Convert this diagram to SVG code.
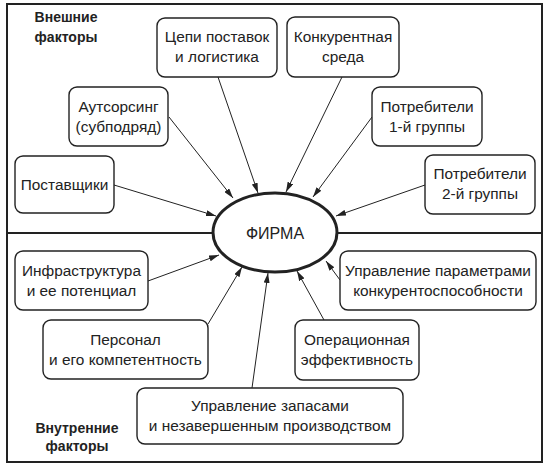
<svg xmlns="http://www.w3.org/2000/svg" width="549" height="466" viewBox="0 0 549 466">
<style>
.box{fill:#fff;stroke:#222;stroke-width:1.4}
.t{font-family:"Liberation Sans",Arial,sans-serif;font-size:15.4px;fill:#222;text-anchor:middle}
.f{font-family:"Liberation Sans",Arial,sans-serif;font-size:16px;fill:#222;text-anchor:middle}
.h{font-family:"Liberation Sans",Arial,sans-serif;font-size:14px;font-weight:bold;fill:#222;text-anchor:middle}
.c{stroke:#222;stroke-width:1;fill:none;marker-end:url(#ah)}
</style>
<defs>
<marker id="ah" viewBox="0 0 10 6" refX="10" refY="3" markerWidth="10" markerHeight="6" markerUnits="userSpaceOnUse" orient="auto">
<path d="M0,0 L10,3 L0,6 Z" fill="#222"/>
</marker>
</defs>
<rect x="7" y="4" width="535" height="458" fill="#fff" stroke="#222" stroke-width="2"/>
<line x1="7" y1="233" x2="542" y2="233" stroke="#222" stroke-width="2"/>
<g id="labels">
<text class="h" x="66" y="22">Внешние</text>
<text class="h" x="66" y="42">факторы</text>
<text class="h" x="77" y="433">Внутренние</text>
<text class="h" x="77" y="451">факторы</text>
</g>
<g id="connectors">
<line class="c" x1="114" y1="185" x2="216" y2="216"/>
<line class="c" x1="169" y1="117" x2="233" y2="198"/>
<line class="c" x1="218" y1="77" x2="258" y2="193"/>
<line class="c" x1="342" y1="77" x2="286" y2="192"/>
<line class="c" x1="372" y1="117" x2="313" y2="197"/>
<line class="c" x1="425" y1="185" x2="336" y2="216"/>
<line class="c" x1="148" y1="281" x2="219" y2="255"/>
<line class="c" x1="208" y1="324" x2="242" y2="267"/>
<line class="c" x1="252" y1="388" x2="268" y2="273"/>
<line class="c" x1="324" y1="320" x2="297" y2="271"/>
<line class="c" x1="340" y1="280" x2="326" y2="261"/>
</g>
<g id="firma">
<ellipse cx="275" cy="232.5" rx="62" ry="39.5" fill="#fff" stroke="#222" stroke-width="3"/>
<text class="f" x="275" y="238.5">ФИРМА</text>
</g>
<g id="chains">
<rect class="box" x="157" y="18" width="120" height="59" rx="8"/>
<text class="t" x="217" y="42">Цепи поставок</text>
<text class="t" x="217" y="62">и логистика</text>
</g>
<g id="competition">
<rect class="box" x="287" y="17" width="112" height="60" rx="8"/>
<text class="t" x="343" y="42">Конкурентная</text>
<text class="t" x="343" y="62">среда</text>
</g>
<g id="outsourcing">
<rect class="box" x="69" y="87" width="99" height="59" rx="8"/>
<text class="t" x="118.5" y="112">Аутсорсинг</text>
<text class="t" x="118.5" y="132">(субподряд)</text>
</g>
<g id="suppliers">
<rect class="box" x="15" y="156" width="99" height="57" rx="8"/>
<text class="t" x="64.5" y="190">Поставщики</text>
</g>
<g id="consumers1">
<rect class="box" x="372" y="87" width="110" height="59" rx="8"/>
<text class="t" x="427" y="112">Потребители</text>
<text class="t" x="427" y="132">1-й группы</text>
</g>
<g id="consumers2">
<rect class="box" x="425" y="155" width="110" height="59" rx="8"/>
<text class="t" x="480" y="179">Потребители</text>
<text class="t" x="480" y="199">2-й группы</text>
</g>
<g id="infrastructure">
<rect class="box" x="15" y="251" width="133" height="59" rx="8"/>
<text class="t" x="81.5" y="276">Инфраструктура</text>
<text class="t" x="81.5" y="296">и ее потенциал</text>
</g>
<g id="personnel">
<rect class="box" x="43" y="320" width="165" height="59" rx="8"/>
<text class="t" x="125.5" y="345">Персонал</text>
<text class="t" x="125.5" y="365">и его компетентность</text>
</g>
<g id="inventory">
<rect class="box" x="137" y="388" width="266" height="56" rx="8"/>
<text class="t" x="270" y="411">Управление запасами</text>
<text class="t" x="270" y="431">и незавершенным производством</text>
</g>
<g id="competitiveness">
<rect class="box" x="340" y="251" width="196" height="59" rx="8"/>
<text class="t" x="438" y="276">Управление параметрами</text>
<text class="t" x="438" y="296">конкурентоспособности</text>
</g>
<g id="operational">
<rect class="box" x="295" y="320" width="124" height="60" rx="8"/>
<text class="t" x="357" y="345">Операционная</text>
<text class="t" x="357" y="365">эффективность</text>
</g>
</svg>
